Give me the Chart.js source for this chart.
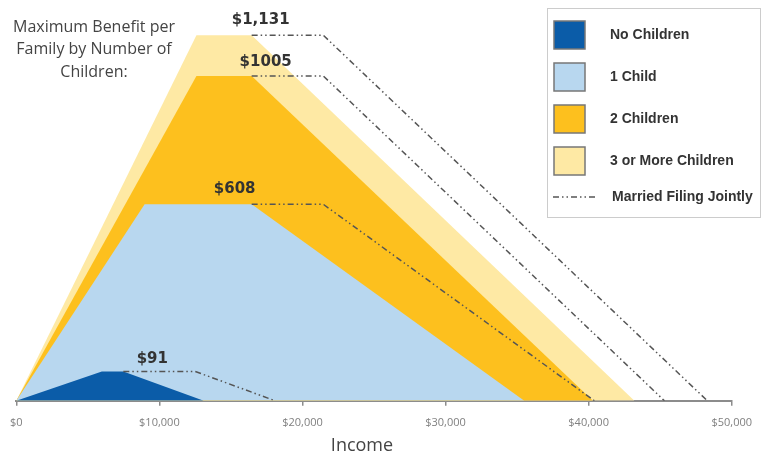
<!DOCTYPE html>
<html>
<head>
<meta charset="utf-8">
<script src="https://cdn.jsdelivr.net/npm/chart.js@4.4.1/dist/chart.umd.min.js"></script>
<style>
  html, body { margin: 0; padding: 0; background: #fff; }
  #wrap { width: 762px; height: 457px; position: relative; }
</style>
</head>
<body>
<div id="wrap"><canvas id="eitcChart"></canvas></div>
<script>
// income break points ($) and benefit ($) for each family type
const noKidsIncome = [0, 5980, 7480, 13100];
const noKidsBenefit = [0, 91, 91, 0];
const oneKidIncome = [0, 8970, 16450, 35500];
const oneKidBenefit = [0, 608, 608, 0];
const twoKidsIncome = [0, 12590, 16450, 40300];
const twoKidsBenefit = [0, 1005, 1005, 0];
const threeKidsIncome = [0, 12590, 16450, 43200];
const threeKidsBenefit = [0, 1131, 1131, 0];

// married filing jointly: plateau runs longer, then phases out
const noKidsJointIncome = [7480, 12490, 18100];
const oneKidJointIncome = [16450, 21460, 40400];
const twoKidsJointIncome = [16450, 21460, 45300];
const threeKidsJointIncome = [16450, 21460, 48300];

const seriesNames = ['No Children', '1 Child', '2 Children', '3 or More Children'];
const jointName = 'Married Filing Jointly';
const maxLabels = ['$91', '$608', '$1005', '$1,131'];
const xTicks = [0, 10000, 20000, 30000, 40000, 50000];
const titleLines = ['Maximum Benefit per', 'Family by Number of', 'Children:'];
const axisTitle = 'Income';

const colors = ['#0b5ca8', '#b8d7ef', '#fdc01e', '#fee9a4'];
const dashColor = '#555555';
const dashPattern = [6, 3, 1.5, 3, 1.5, 3];

function toPoints(xs, ys) {
  return xs.map((x, i) => ({ x: x, y: ys[i] }));
}

const areaData = [
  toPoints(noKidsIncome, noKidsBenefit),
  toPoints(oneKidIncome, oneKidBenefit),
  toPoints(twoKidsIncome, twoKidsBenefit),
  toPoints(threeKidsIncome, threeKidsBenefit)
];
const jointIncome = [noKidsJointIncome, oneKidJointIncome, twoKidsJointIncome, threeKidsJointIncome];
const maxBenefit = [noKidsBenefit[1], oneKidBenefit[1], twoKidsBenefit[1], threeKidsBenefit[1]];

const datasets = [];
jointIncome.forEach((xs, i) => {
  datasets.push({
    label: jointName,
    data: toPoints(xs, [maxBenefit[i], maxBenefit[i], 0]),
    borderColor: dashColor,
    borderWidth: 1.5,
    borderDash: dashPattern,
    pointRadius: 0,
    fill: false,
    order: 0
  });
});
areaData.forEach((pts, i) => {
  datasets.push({
    label: seriesNames[i],
    data: pts,
    backgroundColor: colors[i],
    borderWidth: 0,
    pointRadius: 0,
    fill: 'origin',
    order: i + 1
  });
});

// value labels above each plateau, shifted a little (px) to match the figure
const labelShift = [[29, -12], [-17, -15], [14, -14], [9, -15]];

const textPlugin = {
  id: 'textPlugin',
  afterDraw(chart) {
    const ctx = chart.ctx;
    const xs = chart.scales.x, ys = chart.scales.y;
    ctx.save();
    ctx.textAlign = 'center';
    ctx.textBaseline = 'middle';

    // heading, top left
    ctx.fillStyle = '#444444';
    ctx.font = '16px "Open Sans", sans-serif';
    titleLines.forEach((t, i) => ctx.fillText(t, 94, 27 + i * 22.5));

    // axis title
    ctx.font = '18px "Open Sans", sans-serif';
    ctx.fillText(axisTitle, 362, 446);

    // max value labels
    ctx.fillStyle = '#333333';
    ctx.font = 'bold 15px "DejaVu Sans", sans-serif';
    maxLabels.forEach((t, i) => {
      const px = xs.getPixelForValue(areaData[i][2].x) + labelShift[i][0];
      const py = ys.getPixelForValue(maxBenefit[i]) + labelShift[i][1];
      ctx.fillText(t, px, py);
    });
    ctx.restore();
  }
};

const legendPlugin = {
  id: 'legendBox',
  afterDraw(chart) {
    const ctx = chart.ctx;
    ctx.save();
    ctx.strokeStyle = '#cccccc';
    ctx.lineWidth = 1;
    ctx.strokeRect(547.5, 8.5, 213, 209);

    ctx.font = 'bold 14px "Liberation Sans", Arial, sans-serif';
    ctx.textBaseline = 'middle';
    ctx.textAlign = 'left';
    seriesNames.forEach((name, i) => {
      const cy = 35 + i * 42;
      ctx.fillStyle = colors[i];
      ctx.fillRect(554, cy - 14, 31, 28);
      ctx.strokeStyle = '#777777';
      ctx.lineWidth = 1.5;
      ctx.strokeRect(554, cy - 14, 31, 28);
      ctx.fillStyle = '#333333';
      ctx.fillText(name, 610, cy);
    });
    ctx.strokeStyle = dashColor;
    ctx.lineWidth = 1.5;
    ctx.setLineDash(dashPattern);
    ctx.beginPath();
    ctx.moveTo(553, 197);
    ctx.lineTo(597, 197);
    ctx.stroke();
    ctx.setLineDash([]);
    ctx.fillText(jointName, 612, 197);
    ctx.restore();
  }
};

new Chart(document.getElementById('eitcChart').getContext('2d'), {
  type: 'line',
  data: { datasets: datasets },
  options: {
    responsive: true,
    maintainAspectRatio: false,
    animation: false,
    layout: { padding: { left: 16, right: 23, top: 13, bottom: 18 } },
    plugins: {
      legend: { display: false },
      tooltip: { enabled: false }
    },
    scales: {
      x: {
        type: 'linear',
        min: xTicks[0],
        max: xTicks[xTicks.length - 1],
        z: 1,
        afterBuildTicks: axis => { axis.ticks = xTicks.map(v => ({ value: v })); },
        ticks: {
          callback: v => '$' + v.toLocaleString('en-US'),
          font: { family: '"Open Sans", sans-serif', size: 11 },
          color: '#808080',
          padding: 10,
          maxRotation: 0
        },
        grid: { drawOnChartArea: false, drawTicks: true, tickLength: 5, color: '#8c8c8c', lineWidth: 1.5 },
        border: { display: true, color: '#8c8c8c', width: 2 }
      },
      y: {
        display: false,
        min: 0,
        max: 1200
      }
    }
  },
  plugins: [textPlugin, legendPlugin]
});
</script>
</body>
</html>
